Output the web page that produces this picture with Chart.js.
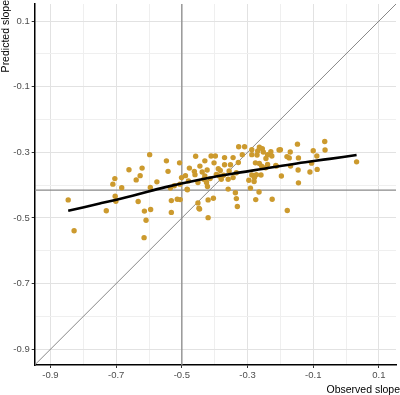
<!DOCTYPE html>
<html>
<head>
<meta charset="utf-8">
<script src="https://cdn.jsdelivr.net/npm/chart.js@4.4.1/dist/chart.umd.min.js"></script>
<style>
  html, body { margin: 0; padding: 0; background: #fff; }
  #wrap { width: 400px; height: 395px; }
</style>
</head>
<body>
<div id="wrap"><canvas id="slopes" width="400" height="395"></canvas></div>
<script>
// observed vs predicted slope, one entry per unit
const observed = [
  -0.846, -0.828, -0.730, -0.704, -0.710, -0.683, -0.703, -0.701, -0.661, -0.639,
  -0.627, -0.621, -0.598, -0.633, -0.614, -0.595, -0.609, -0.615, -0.576, -0.596,
  -0.547, -0.542, -0.523, -0.532, -0.532, -0.507, -0.501, -0.489, -0.483, -0.514,
  -0.458, -0.448, -0.451, -0.420, -0.430, -0.445, -0.477, -0.462, -0.460, -0.451,
  -0.438, -0.430, -0.423, -0.425, -0.422, -0.411, -0.398, -0.402, -0.389, -0.383,
  -0.386, -0.395, -0.420, -0.404, -0.446, -0.505, -0.506, -0.380, -0.359, -0.359,
  -0.337, -0.334, -0.331, -0.370, -0.370, -0.352, -0.344, -0.328, -0.316, -0.327,
  -0.309, -0.296, -0.280, -0.291, -0.287, -0.279, -0.273, -0.259, -0.265, -0.275,
  -0.276, -0.264, -0.257, -0.245, -0.287, -0.287, -0.271, -0.269, -0.264, -0.255,
  -0.252, -0.244, -0.239, -0.226, -0.214, -0.197, -0.225, -0.200, -0.180, -0.170,
  -0.173, -0.169, -0.148, -0.145, -0.146, -0.145, -0.179, -0.110, -0.105, -0.100,
  -0.089, -0.088, -0.065, -0.064, 0.032, -0.356, -0.373, -0.414, -0.433, -0.480,
  -0.484, -0.229, -0.204, -0.239, -0.212, -0.334, -0.344, -0.535
];
const predicted = [
  -0.445, -0.539, -0.478, -0.380, -0.397, -0.408, -0.434, -0.449, -0.353, -0.384,
  -0.371, -0.348, -0.307, -0.450, -0.479, -0.474, -0.507, -0.560, -0.390, -0.407,
  -0.326, -0.358, -0.402, -0.447, -0.483, -0.332, -0.377, -0.371, -0.414, -0.443,
  -0.312, -0.470, -0.454, -0.499, -0.326, -0.342, -0.348, -0.358, -0.368, -0.392,
  -0.360, -0.372, -0.354, -0.392, -0.404, -0.311, -0.311, -0.332, -0.350, -0.355,
  -0.372, -0.367, -0.445, -0.440, -0.473, -0.444, -0.397, -0.382, -0.382, -0.412,
  -0.423, -0.441, -0.465, -0.316, -0.338, -0.338, -0.316, -0.331, -0.307, -0.283,
  -0.283, -0.385, -0.389, -0.409, -0.369, -0.377, -0.368, -0.369, -0.421, -0.444,
  -0.332, -0.334, -0.342, -0.347, -0.292, -0.307, -0.308, -0.296, -0.284, -0.289,
  -0.299, -0.319, -0.307, -0.311, -0.340, -0.372, -0.443, -0.292, -0.313, -0.299,
  -0.317, -0.342, -0.275, -0.317, -0.354, -0.393, -0.477, -0.360, -0.333, -0.295,
  -0.311, -0.352, -0.267, -0.293, -0.329, -0.357, -0.370, -0.380, -0.382, -0.387,
  -0.412, -0.298, -0.293, -0.337, -0.342, -0.362, -0.377, -0.409
];

// smoothed trend
const fitX = [-0.846, -0.75, -0.65, -0.55, -0.45, -0.35, -0.25, -0.15, -0.05, 0.032];
const fitY = [-0.478, -0.456, -0.432, -0.406, -0.384, -0.366, -0.350, -0.334, -0.320, -0.308];

// reference lines
const refObserved = -0.5;
const refPredicted = -0.415;

const axisMin = -0.948;
const axisMax = 0.152;
const gridTicks = [-0.9, -0.8, -0.7, -0.6, -0.5, -0.4, -0.3, -0.2, -0.1, 0.0, 0.1];
const tickLabels = ['-0.9', '-0.7', '-0.5', '-0.3', '-0.1', '0.1'];

const isMajor = v => tickLabels.includes(Number(v).toFixed(1));

const points = observed.map((x, i) => ({x: x, y: predicted[i]}));
const fitPoints = fitX.map((x, i) => ({x: x, y: fitY[i]}));

// ggplot-ish axis titles, drawn by hand so they sit where the original has them
const axisTitles = {
  id: 'axisTitles',
  afterDraw(chart) {
    const c = chart.ctx;
    c.save();
    c.fillStyle = '#000';
    c.font = '10.5px "Liberation Sans", Arial, sans-serif';
    c.textAlign = 'right';
    c.textBaseline = 'alphabetic';
    c.fillText('Observed slope', 400, 392.5);
    c.translate(9, 0);
    c.rotate(-Math.PI / 2);
    c.fillText('Predicted slope', 0, 0);
    c.restore();
  }
};

function axisScale(pos) {
  return {
    type: 'linear',
    position: pos,
    min: axisMin,
    max: axisMax,
    afterBuildTicks: s => { s.ticks = gridTicks.map(v => ({value: v})); },
    afterFit: s => {
      if (pos === 'left') { s.width = 34.7; s.paddingTop = 0; s.paddingBottom = 0; }
      else { s.height = 30; s.paddingLeft = 0; s.paddingRight = 0; }
    },
    border: {display: true, color: '#000', width: 1.5},
    grid: {
      color: c => isMajor(c.tick.value) ? '#e2e2e2' : '#efefef',
      lineWidth: 1,
      tickLength: 3,
      tickColor: c => isMajor(c.tick.value) ? '#333' : 'rgba(0,0,0,0)'
    },
    ticks: {
      autoSkip: false,
      maxRotation: 0,
      padding: 2,
      color: '#4d4d4d',
      font: {family: '"Liberation Sans", Arial, sans-serif', size: 9.5},
      callback: v => isMajor(v) ? Number(v).toFixed(1) : ''
    }
  };
}

new Chart(document.getElementById('slopes'), {
  type: 'scatter',
  data: {
    datasets: [
      {
        data: fitPoints, showLine: true, borderColor: '#000', borderWidth: 2.6,
        pointRadius: 0, tension: 0.4, order: 0
      },
      {
        data: points, backgroundColor: '#cc9a2e', borderWidth: 0,
        pointRadius: 2.7, order: 1
      },
      {
        data: [{x: refObserved, y: axisMin}, {x: refObserved, y: axisMax}],
        showLine: true, borderColor: '#8a8a8a', borderWidth: 1.3, pointRadius: 0, order: 2
      },
      {
        data: [{x: axisMin, y: refPredicted}, {x: axisMax, y: refPredicted}],
        showLine: true, borderColor: '#8a8a8a', borderWidth: 1.3, pointRadius: 0, order: 2
      },
      {
        data: [{x: axisMin, y: axisMin}, {x: axisMax, y: axisMax}],
        showLine: true, borderColor: '#888', borderWidth: 1, pointRadius: 0, order: 2
      }
    ]
  },
  options: {
    responsive: false,
    animation: false,
    events: [],
    layout: {padding: 0},
    plugins: {legend: {display: false}, tooltip: {enabled: false}},
    scales: {x: axisScale('bottom'), y: axisScale('left')}
  },
  plugins: [axisTitles]
});
</script>
</body>
</html>
